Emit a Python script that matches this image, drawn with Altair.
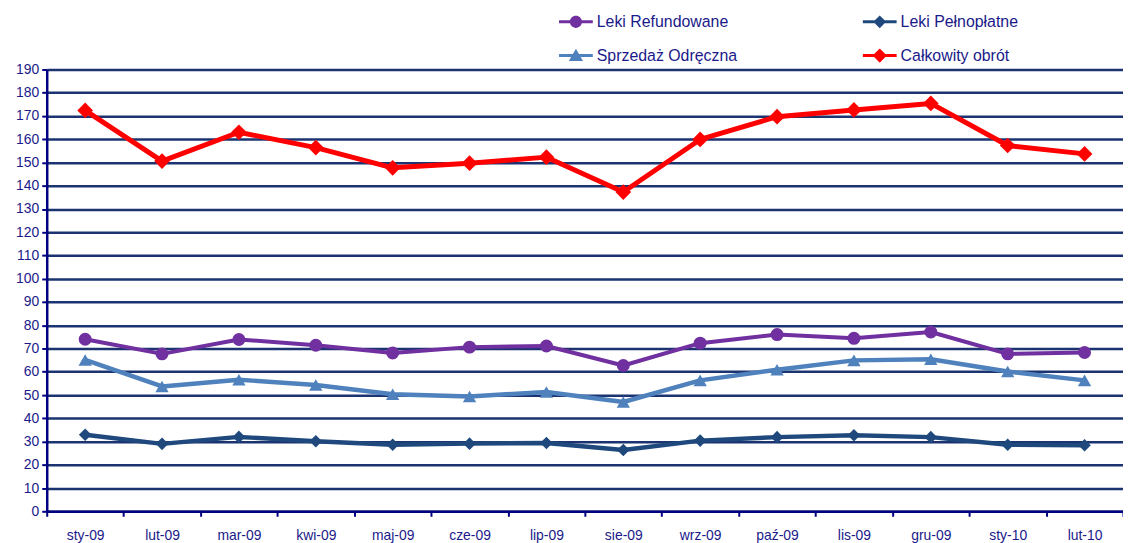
import altair as alt
import pandas as pd

months = ["sty-09", "lut-09", "mar-09", "kwi-09", "maj-09", "cze-09", "lip-09",
          "sie-09", "wrz-09", "paź-09", "lis-09", "gru-09", "sty-10", "lut-10"]
refundowane = [74.0, 67.7, 73.9, 71.4, 68.1, 70.6, 71.1, 62.7, 72.3, 76.0, 74.4, 77.1, 67.7, 68.3]
pelnoplatne = [32.9, 29.0, 32.0, 30.1, 28.6, 29.1, 29.4, 26.4, 30.4, 31.9, 32.7, 31.9, 28.6, 28.4]
odreczna = [65.1, 53.7, 56.6, 54.3, 50.3, 49.4, 51.3, 47.0, 56.3, 60.9, 64.9, 65.4, 60.1, 56.3]
calkowity = [172.4, 150.6, 163.0, 156.4, 147.7, 149.7, 152.3, 137.3, 159.9, 169.7, 172.6, 175.4, 157.3, 153.7]

series_names = ["Leki Refundowane", "Leki Pełnopłatne", "Sprzedaż Odręczna", "Całkowity obrót"]
series_values = [refundowane, pelnoplatne, odreczna, calkowity]
colors = ["#7030A0", "#1F497D", "#4F81BD", "#FF0000"]
shapes = ["circle", "diamond", "triangle-up", "diamond"]
marker_sizes = [170, 160, 180, 250]
line_widths = [4, 4.5, 4.5, 5]

# legend order (column-major layout in two columns)
legend_order = [0, 2, 1, 3]

TEXT = "#1A1A8A"
NAVY = "#000080"
GRID = "#1B3370"
FONT = "Liberation Sans"

rows = []
for name, vals in zip(series_names, series_values):
    for m, v in zip(months, vals):
        rows.append({"month": m, "series": name, "value": v})
df = pd.DataFrame(rows)

# legend symbols: line segment + marker, in unit coordinates
seg = "M-1,-0.09L1,-0.09L1,0.09L-1,0.09Z"
legend_paths = [
    seg + "M-0.36,0A0.36,0.36 0 1,1 0.36,0A0.36,0.36 0 1,1 -0.36,0Z",
    seg + "M0,-0.38L0.38,0L0,0.38L-0.38,0Z",
    seg + "M0,-0.4L0.42,0.32L-0.42,0.32Z",
    seg + "M0,-0.42L0.42,0L0,0.42L-0.42,0Z",
]

x_enc = alt.X(
    "month:N", sort=months, title=None,
    scale=alt.Scale(type="band", paddingInner=0, paddingOuter=0),
    axis=alt.Axis(tickBand="extent", labelAngle=0, labelColor=TEXT, labelFont=FONT,
                  labelFontSize=14, labelPadding=12, tickSize=5, tickWidth=2,
                  tickColor=NAVY, domainColor=NAVY, domainWidth=2.5, grid=False),
)
y_enc = alt.Y(
    "value:Q", title=None,
    scale=alt.Scale(domain=[0, 190], nice=False, zero=True),
    axis=alt.Axis(values=list(range(0, 191, 10)), grid=True, gridColor=GRID, gridWidth=2.5,
                  labelColor=TEXT, labelFont=FONT, labelFontSize=14, labelPadding=3,
                  tickSize=5, tickWidth=2, tickColor=NAVY, domainColor=NAVY, domainWidth=2.5),
)

layers = []
for name, col, shp, ms, lw in zip(series_names, colors, shapes, marker_sizes, line_widths):
    base = alt.Chart(df).transform_filter(alt.datum.series == name)
    layers.append(base.mark_line(color=col, strokeWidth=lw, strokeJoin="round").encode(x=x_enc, y=y_enc))
    layers.append(base.mark_point(color=col, filled=True, opacity=1, shape=shp, size=ms).encode(x=x_enc, y=y_enc))

leg_domain = [series_names[i] for i in legend_order]
leg_colors = [colors[i] for i in legend_order]
leg_paths = [legend_paths[i] for i in legend_order]

def make_legend():
    return alt.Legend(title=None, orient="none", legendX=516, legendY=-65,
                      columns=2, columnPadding=126, rowPadding=9,
                      symbolSize=1156, symbolStrokeWidth=0, symbolOpacity=1,
                      labelColor=TEXT, labelFont=FONT, labelFontSize=16,
                      labelOffset=4, labelLimit=300, padding=0)

legend_layer = alt.Chart(df).transform_filter("false").mark_point(filled=True, opacity=1).encode(
    x=x_enc, y=y_enc,
    color=alt.Color("series:N", scale=alt.Scale(domain=leg_domain, range=leg_colors),
                    legend=make_legend()),
    shape=alt.Shape("series:N", scale=alt.Scale(domain=leg_domain, range=leg_paths),
                    legend=make_legend()),
)

chart = alt.layer(*layers, legend_layer).resolve_scale(
    color="independent", shape="independent"
).properties(
    width=1084, height=445,
    autosize=alt.AutoSizeParams(type="none"),
    padding={"left": 39, "top": 60, "right": 0, "bottom": 30},
).configure_view(stroke=None).configure(background="white")

chart.save("out.html", embed_options={"renderer": "svg", "actions": False})
